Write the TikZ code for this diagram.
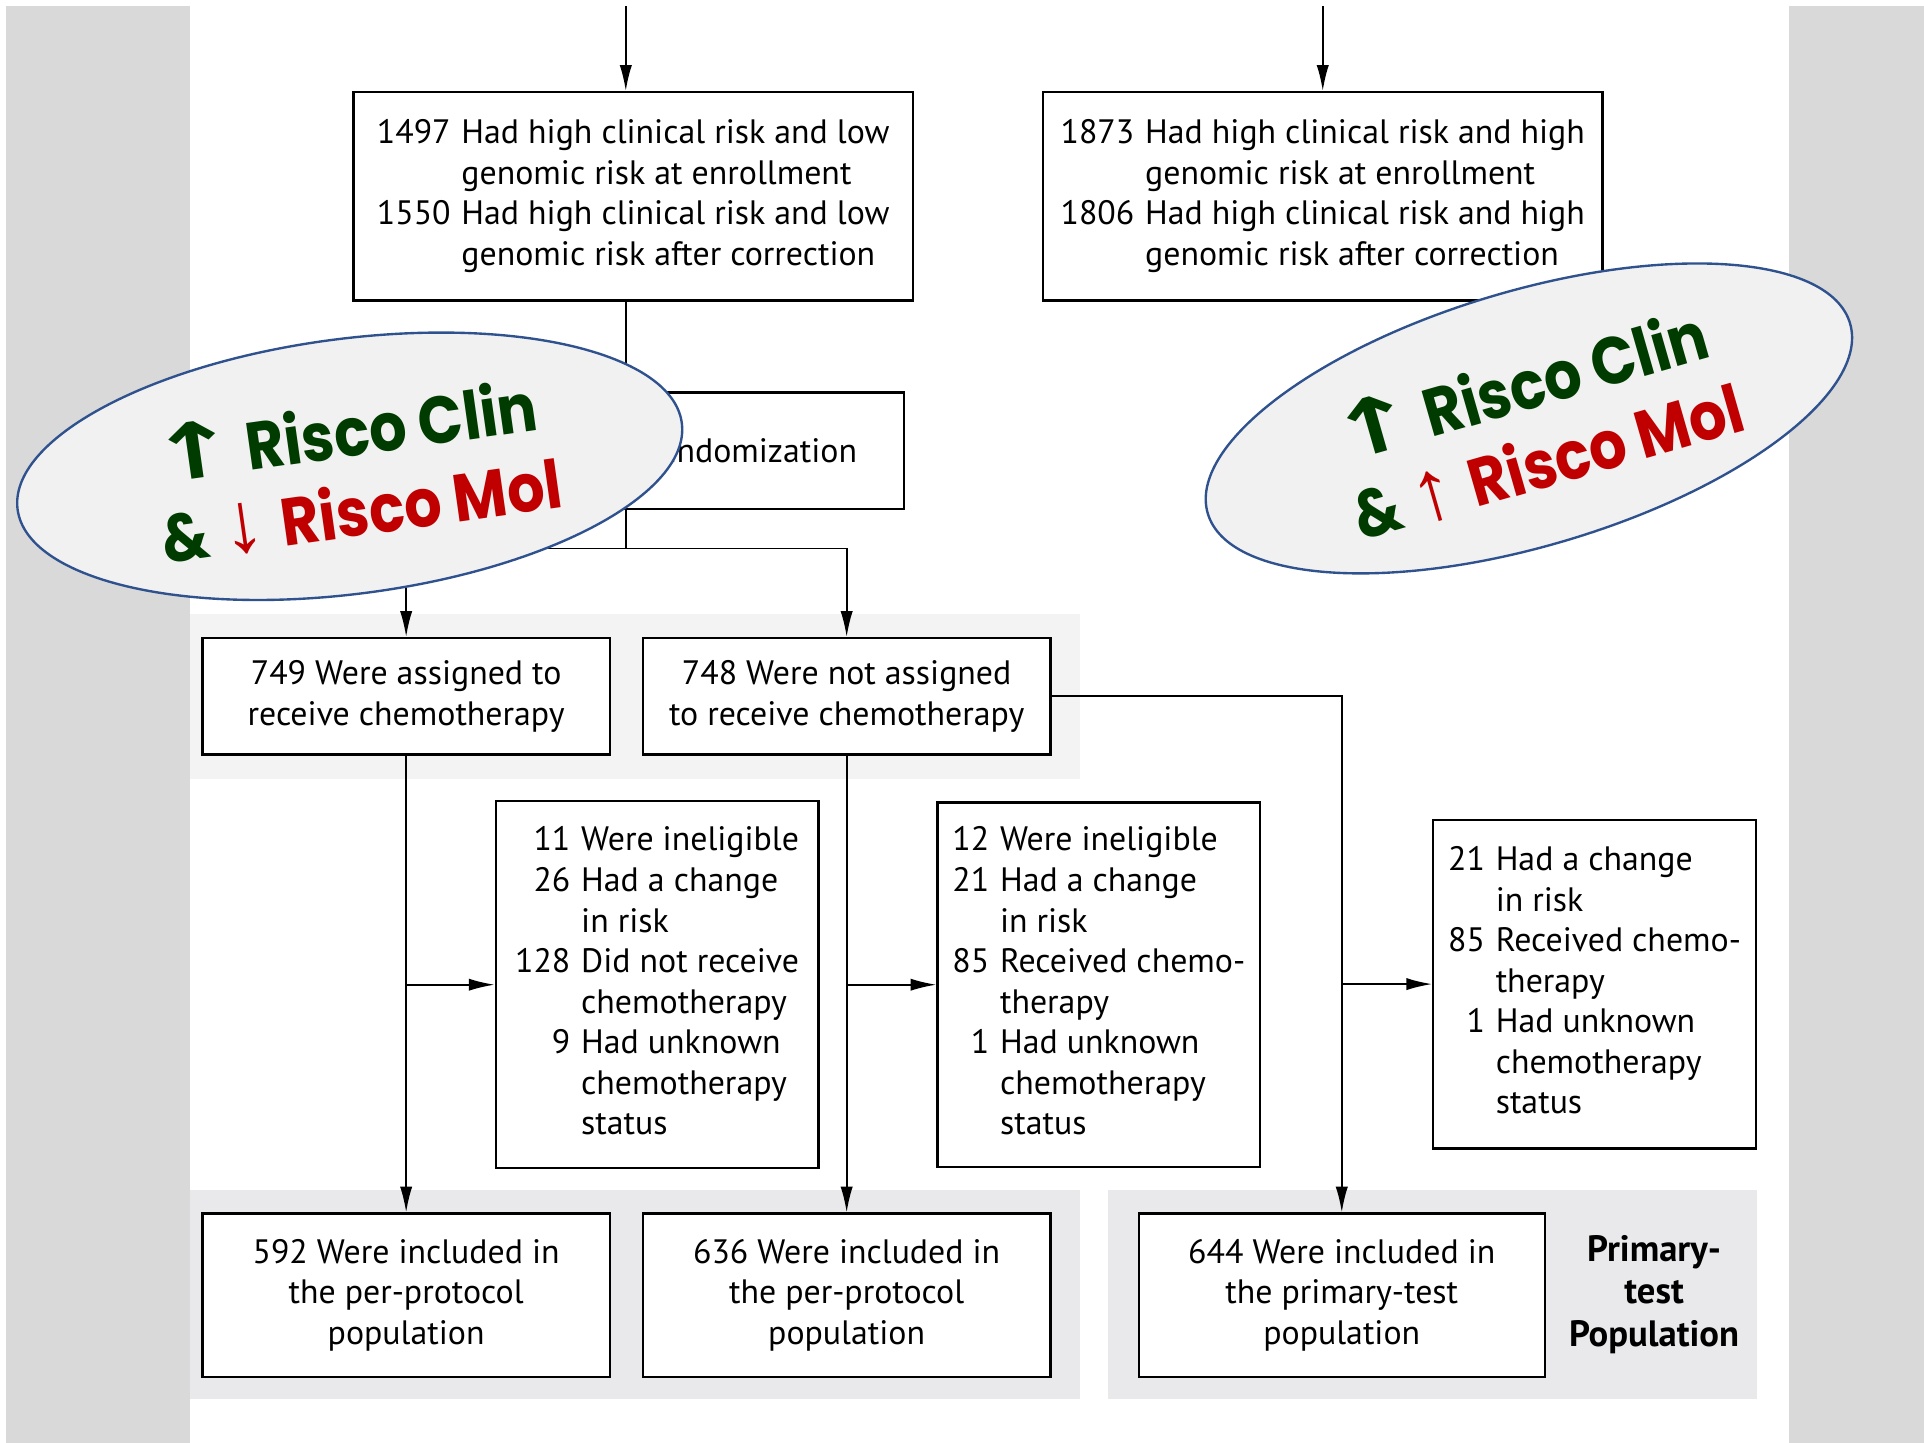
\documentclass[tikz,border=0pt]{standalone}
\usepackage{graphicx}
\usepackage{fontspec}
\setmainfont{PT Sans}
\newfontfamily\poppfont{Poppins}[FakeStretch=0.88]
\newfontfamily\djvfont{DejaVu Sans}
\newfontfamily\libfont{Liberation Sans}
\usetikzlibrary{arrows.meta,shapes.geometric}
\definecolor{outergray}{RGB}{217,217,217}
\definecolor{panelA}{RGB}{243,243,243}
\definecolor{panelB}{RGB}{233,233,235}
\definecolor{ellfill}{RGB}{241,241,241}
\definecolor{elldraw}{RGB}{47,82,143}
\definecolor{cgreen}{RGB}{0,60,0}
\definecolor{cred}{RGB}{192,0,0}
\newcommand\mainsz{\fontsize{15.7}{18.8}\selectfont}
\newcommand\upg{\scalebox{1.35}[1]{\djvfont\bfseries\fontsize{36}{36}\selectfont ↑}}
\newcommand\downr{{\libfont\fontsize{40}{36}\selectfont ↓}}
\newcommand\upr{{\libfont\fontsize{40}{36}\selectfont ↑}}
\tikzset{
  box/.style={draw=black, line width=1.1pt, fill=white, inner sep=0pt, align=center, font=\mainsz},
  conn/.style={draw=black, line width=0.8pt},
  arr/.style={conn, -{Latex[length=0.42cm,width=0.2cm]}},
  riskell/.style={ellipse, draw=elldraw, fill=ellfill, line width=1.1pt, inner sep=0pt,
     minimum width=10.92cm, minimum height=4.16cm},
  risktxt/.style={align=left, inner sep=0pt, font=\poppfont\bfseries\fontsize{31}{37}\selectfont},
}
\newcommand\hangtab[1]{\begin{tabular}{@{}r@{\hspace{5pt}}l@{}}#1\end{tabular}}
\begin{document}
\begin{tikzpicture}[x=0.02cm,y=-0.02cm]
\useasboundingbox (0,0) rectangle (1568,1176);
% backgrounds
\fill[white] (0,0) rectangle (1568,1176);
\fill[outergray] (5,5) rectangle (1568,1176);
\fill[white] (155,5) rectangle (1458,1176);
\fill[panelA] (155,500) rectangle (880,635);
\fill[panelB] (155,970) rectangle (880,1140);
\fill[panelB] (903,970) rectangle (1432,1140);

% boxes
\node[box, minimum width=9.12cm, minimum height=3.4cm] (A) at (516,160)
  {\hangtab{1497 & Had high clinical risk and low\\ & genomic risk at enrollment\\
   1550 & Had high clinical risk and low\\ & genomic risk after correction}};
\node[box, minimum width=9.12cm, minimum height=3.4cm] (B) at (1078,160)
  {\hangtab{1873 & Had high clinical risk and high\\ & genomic risk at enrollment\\
   1806 & Had high clinical risk and high\\ & genomic risk after correction}};
\node[box, minimum width=5.08cm, minimum height=1.9cm] (R) at (610,367.5) {Randomization};
\node[box, minimum width=6.64cm, minimum height=1.9cm] (C) at (331,567.5)
  {749 Were assigned to\\receive chemotherapy};
\node[box, minimum width=6.64cm, minimum height=1.9cm] (D) at (690,567.5)
  {748 Were not assigned\\to receive chemotherapy};
\node[box, minimum width=5.26cm, minimum height=5.98cm] (E) at (535.5,802.5)
  {\hangtab{11 & Were ineligible\\ 26 & Had a change\\ & in risk\\ 128 & Did not receive\\
   & chemotherapy\\ 9 & Had unknown\\ & chemotherapy\\ & status}};
\node[box, minimum width=5.26cm, minimum height=5.94cm] (F) at (895.5,802.5)
  {\hangtab{12 & Were ineligible\\ 21 & Had a change\\ & in risk\\ 85 & Received chemo-\\
   & therapy\\ 1 & Had unknown\\ & chemotherapy\\ & status}};
\node[box, minimum width=5.26cm, minimum height=5.36cm] (G) at (1299.5,802)
  {\hangtab{21 & Had a change\\ & in risk\\ 85 & Received chemo-\\
   & therapy\\ 1 & Had unknown\\ & chemotherapy\\ & status}};
\node[box, minimum width=6.64cm, minimum height=2.66cm] (H) at (331,1055.5)
  {592 Were included in\\the per-protocol\\population};
\node[box, minimum width=6.64cm, minimum height=2.66cm] (I) at (690,1055.5)
  {636 Were included in\\the per-protocol\\population};
\node[box, minimum width=6.62cm, minimum height=2.66cm] (J) at (1093.5,1055.5)
  {644 Were included in\\the primary-test\\population};
\node[align=center, inner sep=0pt, font=\bfseries\fontsize{17}{19.9}\selectfont] (P) at (1348,1055)
  {Primary-\\test\\Population};

% connectors
\coordinate (topA) at (510,5);
\coordinate (topB) at (1078,5);
\coordinate (split) at (510,447);
\draw[arr] (topA) -- (topA |- A.north);
\draw[arr] (topB) -- (B.north);
\draw[conn] (A.south -| topA) -- (R.north -| topA);
\draw[conn] (R.south -| topA) -- (split);
\draw[arr] (split) -| (C.north);
\draw[arr] (split) -| (D.north);
\draw[arr] (C.south) -- (H.north);
\draw[arr] (C.south |- E.west) -- (E.west);
\draw[arr] (D.south) -- (I.north);
\draw[arr] (D.south |- F.west) -- (F.west);
\draw[arr] (D.east) -| (J.north);
\draw[arr] (J.north |- G.west) -- (G.west);

% ellipses
\node[riskell, rotate=7.4] (L) at (285,380) {};
\node[risktxt, rotate=8] (Lt) at (290,382)
  {{\color{cgreen}\upg\hspace{0.12em}Risco Clin}\\
   {\color{cgreen}\&}\hspace{0.2em}{\color{cred}\downr\hspace{0.25em}Risco Mol}};
\node[riskell, rotate=16.5] (Rr) at (1246,341) {};
\node[risktxt, rotate=16] (Rt) at (1252,343)
  {{\color{cgreen}\upg\hspace{0.12em}Risco Clin}\\
   {\color{cgreen}\&}\hspace{0.2em}{\color{cred}\upr\hspace{0.25em}Risco Mol}};
\end{tikzpicture}
\end{document}
